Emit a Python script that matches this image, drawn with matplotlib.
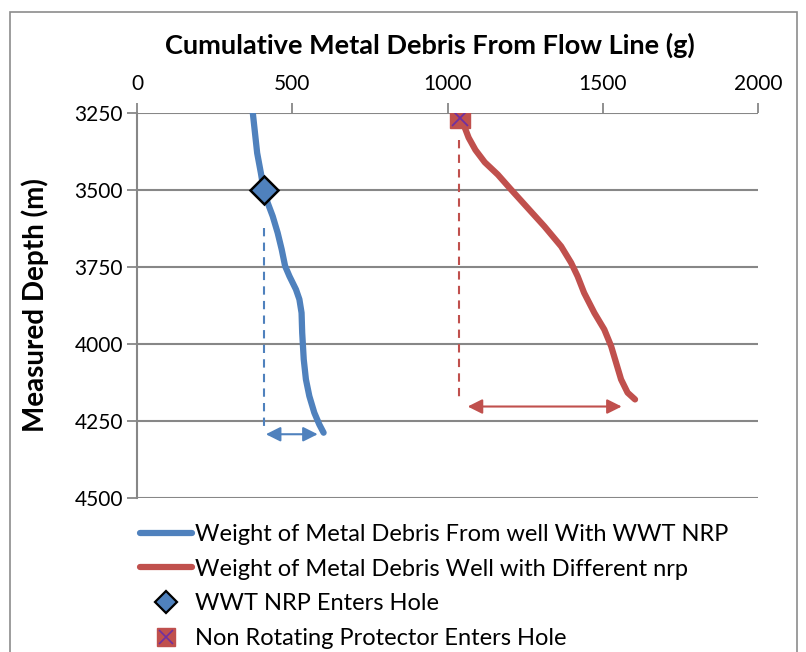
import matplotlib.pyplot as plt
from matplotlib.patches import Rectangle
from matplotlib.lines import Line2D
from matplotlib.legend_handler import HandlerTuple

# Dados
blue_depth = [3250, 3315, 3380, 3445, 3499, 3542, 3585, 3639, 3693, 3747, 3780,
              3823, 3855, 3899, 3963, 4050, 4115, 4169, 4223, 4261, 4288]
blue_weight = [373, 380, 387, 399, 408, 421, 437, 453, 466, 477, 491,
               512, 523, 530, 532, 537, 544, 555, 571, 587, 601]

red_depth = [3266, 3293, 3330, 3370, 3410, 3450, 3499, 3558, 3618, 3683, 3736, 3780,
             3834, 3899, 3953, 4007, 4061, 4115, 4158, 4180]
red_weight = [1041, 1054, 1068, 1090, 1120, 1162, 1205, 1258, 1312, 1366, 1398, 1419,
              1440, 1473, 1505, 1527, 1543, 1559, 1580, 1604]

wwt_entry = (408, 3499)
nrp_entry = (1041, 3266)

# linhas tracejadas (x, profundidade inicial, final) e setas (x1, x2, profundidade)
blue_dash = (408, 3622, 4287)
red_dash = (1038, 3337, 4185)
blue_arrow = (415, 582, 4293)
red_arrow = (1065, 1561, 4203)

x_ticks = [0, 500, 1000, 1500, 2000]
y_ticks = [3250, 3500, 3750, 4000, 4250, 4500]

blue = '#4F81BD'
red = '#C0504D'
grid = '#878787'
font = 'Lato'

fig = plt.figure(figsize=(8.06, 6.52), dpi=100)
ax = fig.add_axes([137 / 806, 1 - 498 / 652, 621 / 806, 385 / 652])

ax.set_xlim(0, 2000)
ax.set_ylim(4500, 3250)
ax.set_xticks(x_ticks)
ax.set_yticks(y_ticks)
ax.xaxis.tick_top()
ax.tick_params(axis='both', labelsize=15, color=grid, width=1.3, length=7,
               direction='out')
ax.tick_params(axis='x', pad=7)
ax.tick_params(axis='y', pad=3)
for lab in ax.get_xticklabels() + ax.get_yticklabels():
    lab.set_family(font)
ax.yaxis.grid(True, color=grid, linewidth=1.5)
ax.set_axisbelow(True)
for s in ['right', 'bottom', 'top']:
    ax.spines[s].set_visible(False)
ax.spines['left'].set_color(grid)
ax.spines['left'].set_linewidth(1.5)

ax.plot(blue_weight, blue_depth, color=blue, lw=4.5, solid_capstyle='round',
        solid_joinstyle='round', zorder=3)
ax.plot(red_weight, red_depth, color=red, lw=4.5, solid_capstyle='round',
        solid_joinstyle='round', zorder=3)

ax.plot(*wwt_entry, marker='D', ms=14, mfc=blue, mec='black', mew=1.8,
        ls='none', zorder=5)
ax.plot(*nrp_entry, marker='s', ms=14, mfc=red, mec=red, ls='none', zorder=5)
ax.plot(*nrp_entry, marker='x', ms=11, mec='#7030A0', mew=1.3, ls='none', zorder=6)

ax.plot([blue_dash[0]] * 2, blue_dash[1:], color=blue, lw=1.5, ls=(0, (4, 3)), zorder=2)
ax.plot([red_dash[0]] * 2, red_dash[1:], color=red, lw=1.5, ls=(0, (4, 3)), zorder=2)

for (x1, x2, d), c in [(blue_arrow, blue), (red_arrow, red)]:
    ax.annotate('', xy=(x2, d), xytext=(x1, d),
                arrowprops=dict(arrowstyle='<|-|>', color=c, lw=1.5,
                                mutation_scale=22, shrinkA=0, shrinkB=0))

fig.text(430 / 806, 1 - 45 / 652, 'Cumulative Metal Debris From Flow Line (g)',
         ha='center', va='center', fontsize=19.5, fontweight='bold', family=font)
fig.text(35 / 806, 1 - 305 / 652, 'Measured Depth (m)', rotation=90,
         ha='center', va='center', fontsize=20, fontweight='bold', family=font)

# Legenda
handles = [
    Line2D([], [], color=blue, lw=4.5, solid_capstyle='round'),
    Line2D([], [], color=red, lw=4.5, solid_capstyle='round'),
    Line2D([], [], marker='D', ms=11, mfc=blue, mec='black', mew=1.6, ls='none'),
    (Line2D([], [], marker='s', ms=13, mfc=red, mec=red, ls='none'),
     Line2D([], [], marker='x', ms=10, mec='#7030A0', mew=1.2, ls='none')),
]
labels = ['Weight of Metal Debris From well With WWT NRP',
          'Weight of Metal Debris Well with Different nrp',
          'WWT NRP Enters Hole',
          'Non Rotating Protector Enters Hole']
fig.legend(handles, labels, loc='upper left', bbox_to_anchor=(128 / 806, 1 - 512 / 652),
           frameon=False, prop={'family': font, 'size': 17}, handlelength=2.2,
           handletextpad=0.15, labelspacing=0.58, borderpad=0,
           handler_map={tuple: HandlerTuple(ndivide=1, pad=0)})

fig.add_artist(Rectangle((10 / 806, -0.05), 787 / 806, 1.05 - 12 / 652,
                         transform=fig.transFigure, fill=False,
                         edgecolor='#8C8C8C', lw=1.2))

plt.savefig('out.png', dpi=100)
